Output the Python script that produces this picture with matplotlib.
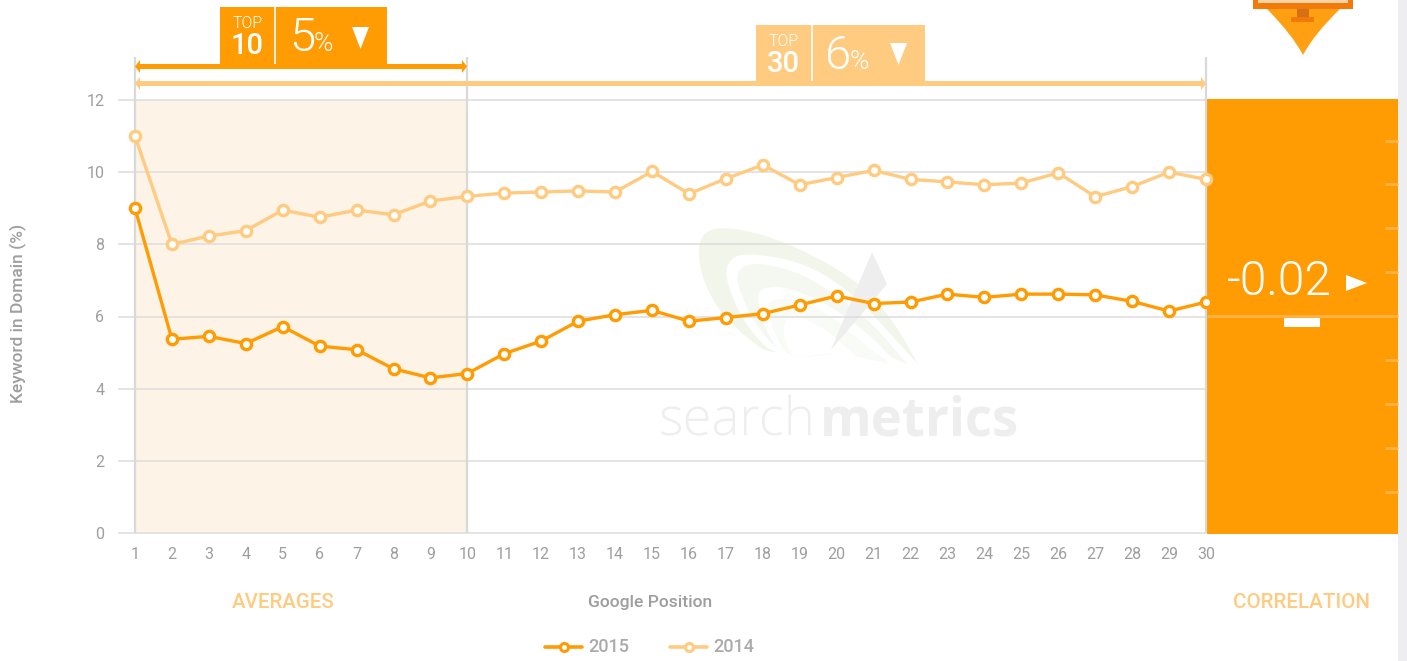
import matplotlib
matplotlib.use('Agg')
import matplotlib.pyplot as plt
from matplotlib.patches import Rectangle, Polygon, PathPatch
from matplotlib.path import Path
import numpy as np

plt.rcParams['font.family'] = ['Roboto', 'DejaVu Sans']

positions = list(range(1, 31))
y2015 = [9.0, 5.37, 5.45, 5.25, 5.72, 5.18, 5.08, 4.55, 4.3, 4.42, 4.97, 5.32, 5.87, 6.05, 6.17,
         5.87, 5.97, 6.08, 6.32, 6.57, 6.36, 6.4, 6.62, 6.53, 6.62, 6.62, 6.6, 6.42, 6.15, 6.4]
y2014 = [11.0, 8.0, 8.23, 8.38, 8.95, 8.75, 8.95, 8.82, 9.2, 9.33, 9.42, 9.45, 9.48, 9.45, 10.02,
         9.4, 9.82, 10.2, 9.65, 9.85, 10.05, 9.8, 9.73, 9.65, 9.7, 9.98, 9.32, 9.6, 10.0, 9.8]
yticks = [0, 2, 4, 6, 8, 10, 12]

ORANGE = '#ff9b03'
LIGHT = '#ffcb80'
GREY = '#9e9e9e'
W, H = 1407, 661

fig = plt.figure(figsize=(W/100, H/100), dpi=100)

# overlay in pixel coords for all the decoration
bg = fig.add_axes([0, 0, 1, 1], zorder=0)
bg.set_xlim(0, W)
bg.set_ylim(H, 0)
bg.axis('off')

top = fig.add_axes([0, 0, 1, 1], zorder=3)
top.set_xlim(0, W)
top.set_ylim(H, 0)
top.axis('off')
top.patch.set_alpha(0)

# data axes, pos 1 at x=135, pos 30 at x=1206, 0 at y=533, 12 at y=100
ax = fig.add_axes([135/W, (H-533)/H, (1206-135)/W, (533-100)/H], zorder=2)
ax.patch.set_alpha(0)
ax.set_xlim(1, 30)
ax.set_ylim(0, 12)
for s in ax.spines.values():
    s.set_visible(False)
ax.set_xticks(positions)
ax.set_yticks(yticks)
ax.tick_params(length=0, labelsize=11.5, labelcolor=GREY, pad=10)
ax.tick_params(axis='y', pad=22)

bg.add_patch(Rectangle((135, 100), 332, 433, fc='#fdf3e6', ec='none'))


# logo watermark, corner cut outlines. first and last point stay as sharp tips
def blob(pts, col, n=3):
    p = np.array(pts, dtype=float)
    for _ in range(n):
        a, b = p[:-1], p[1:]
        mid = np.column_stack([0.75*a + 0.25*b, 0.25*a + 0.75*b]).reshape(-1, 2)
        p = np.vstack([p[0], mid, p[-1]])
    bg.add_patch(Polygon(p, fc=col, ec='none'))


blob([(918, 364), (893, 320), (857, 280), (790, 243), (730, 226), (700, 232), (698, 265), (713, 303),
      (740, 333), (778, 360), (840, 320), (918, 364)], '#f2f6ea')
blob([(918, 364), (893, 337), (857, 297), (807, 263), (745, 252), (726, 262), (727, 285), (745, 325),
      (778, 360), (840, 340), (918, 364)], '#ffffff')
blob([(907, 364), (867, 317), (807, 275), (760, 262), (738, 268), (737, 285), (755, 325), (787, 360),
      (840, 335), (907, 364)], '#f5f8f0')
blob([(897, 364), (870, 335), (830, 305), (785, 286), (760, 288), (757, 300), (765, 330), (785, 360),
      (840, 345), (897, 364)], '#ffffff')
blob([(890, 364), (865, 345), (830, 315), (797, 298), (770, 300), (767, 308), (775, 335), (790, 360),
      (840, 352), (890, 364)], '#f9fbf6')
blob([(860, 360), (830, 332), (800, 316), (785, 318), (783, 335), (792, 360), (825, 352), (860, 360)], '#ffffff')
bg.add_patch(Polygon([(872, 252), (887, 284), (831, 350), (855, 292)], fc='#eeeeee', ec='none'))
bg.text(659, 422, 'search', fontsize=38, color='#eeeeee', va='center', ha='left', fontweight=300,
        family='Open Sans')
bg.text(820, 422, 'metrics', fontsize=38, color='#eeeeee', va='center', ha='left', fontweight='bold',
        family='Open Sans')

for v in yticks:
    bg.plot([118, 1206], [533-v*(433/12.0)]*2, color='#dddddd', lw=1.1, solid_capstyle='butt')
for xp in [135, 467, 1206]:
    bg.plot([xp, xp], [57, 533], color='#d9d9d9', lw=1.6, solid_capstyle='butt')

# series
ax.plot(positions, y2014, color=LIGHT, lw=2.4, marker='o', ms=7.4, mfc='white', mec=LIGHT, mew=2.4,
        clip_on=False, zorder=3, label='2014')
ax.plot(positions, y2015, color=ORANGE, lw=2.4, marker='o', ms=7.4, mfc='white', mec=ORANGE, mew=2.4,
        clip_on=False, zorder=4, label='2015')

# correlation panel
bg.add_patch(Rectangle((1207, 99), 191, 435, fc=ORANGE, ec='none'))
bg.add_patch(Rectangle((1398, 0), 9, H, fc='#eeeef0', ec='none'))
for yp in [141, 184, 228, 272, 360, 404, 448, 492]:
    bg.plot([1385, 1398], [yp, yp], color='#ffb347', lw=2, solid_capstyle='butt')
bg.plot([1207, 1398], [316, 316], color='#ffb347', lw=2, solid_capstyle='butt')
bg.add_patch(Rectangle((1284, 318), 36, 9, fc='white', ec='none'))
bg.text(1279, 282, '-0.02', fontsize=34.5, color='white', ha='center', va='center', fontweight=300)
bg.add_patch(Polygon([(1346, 275), (1367, 283), (1346, 291)], fc='white', ec='none'))


# arrows
def band(x0, x1, yc, col):
    top.add_patch(Polygon([(x0, yc), (x0+5, yc-6.5), (x0+5, yc-2.5), (x1-5, yc-2.5), (x1-5, yc-6.5), (x1, yc),
                           (x1-5, yc+6.5), (x1-5, yc+2.5), (x0+5, yc+2.5), (x0+5, yc+6.5)], fc=col, ec='none'))


band(135, 467, 66.5, ORANGE)
band(135, 1206, 83.5, LIGHT)


# callout boxes
def callout(x0, y0, y1, xd, x1, col, num, pct, pctx, symx, triy):
    top.add_patch(Rectangle((x0, y0), x1-x0, y1-y0, fc=col, ec='none'))
    top.plot([xd, xd], [y0, y1-5], color='white', lw=1.2, solid_capstyle='butt')
    cx = (x0+xd)/2.0
    top.text(cx, y0+16, 'TOP', fontsize=11.5, color='white', ha='center', va='center', fontweight=300)
    top.text(cx-0.5, y0+39, num, fontsize=21, color='white', ha='center', va='center', fontweight='medium')
    top.text(pctx, y0+31, pct, fontsize=34, color='white', ha='left', va='center', fontweight=300)
    top.text(pctx+25, y0+37, '%', fontsize=19, color='white', ha='left', va='center', fontweight=300)
    top.add_patch(Polygon([(symx, triy), (symx+17, triy), (symx+8.5, triy+22)], fc='white', ec='none'))


callout(220, 7, 69, 275, 387, ORANGE, '10', '5', 289, 352, 27)
callout(756, 25, 86, 812, 925, LIGHT, '30', '6', 825, 890, 43)

# monitor icon top right
tri = Path([(1266, 8), (1292, 34), (1303, 55), (1314, 34), (1341, 8), (1266, 8)],
           [Path.MOVETO, Path.CURVE3, Path.CURVE3, Path.CURVE3, Path.CURVE3, Path.CLOSEPOLY])
bg.add_patch(PathPatch(tri, fc='#ffa012', ec='none'))
bg.add_patch(Rectangle((1253, 0), 100, 8.7, fc='#f27a0a', ec='none'))
bg.add_patch(Rectangle((1258, 0), 90, 3, fc='#fcd3a5', ec='none'))
bg.add_patch(Rectangle((1297, 9), 12, 9, fc='#d96f14', ec='none'))
bg.add_patch(Rectangle((1291, 17), 23, 5, fc='#f27a0a', ec='none'))

# labels
bg.text(18, 313, 'Keyword in Domain (%)', rotation=90, fontsize=12.5, color=GREY, ha='center', va='center', fontweight='medium')
bg.text(650, 602, 'Google Position', fontsize=12.6, color=GREY, ha='center', va='center', fontweight='medium')
bg.text(283, 602, 'AVERAGES', fontsize=14.8, color=LIGHT, ha='center', va='center', fontweight='medium')
bg.text(1301, 602, 'CORRELATION', fontsize=14.9, color=LIGHT, ha='center', va='center', fontweight='medium')

# legend drawn by hand to keep the spacing
for x0, col, lab in [(545, ORANGE, '2015'), (670, LIGHT, '2014')]:
    bg.plot([x0, x0+37], [647, 647], color=col, lw=2.6, solid_capstyle='round')
    bg.plot([x0+18.5], [647], marker='o', ms=5.8, mfc='white', mec=col, mew=2.2)
    bg.text(x0+43, 647, lab, fontsize=13, color='#aaaaaa', ha='left', va='center', fontweight='medium')

fig.savefig('out.png', dpi=100)
